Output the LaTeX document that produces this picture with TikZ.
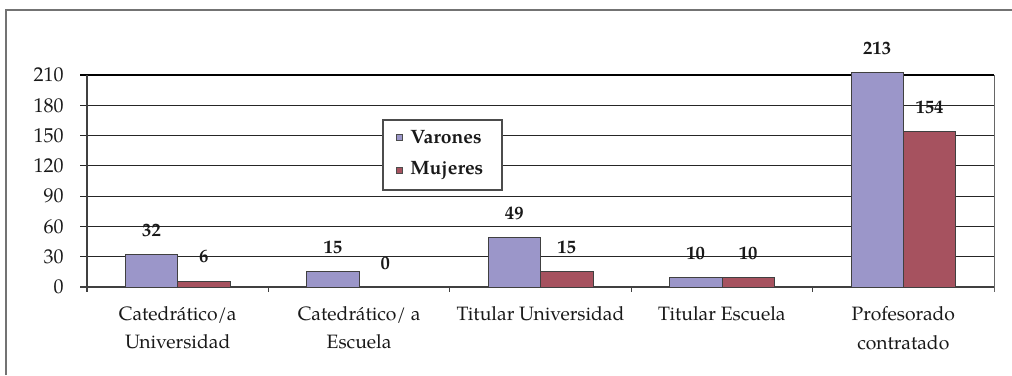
\documentclass[tikz,border=0pt]{standalone}
\usepackage{fontspec}
\setmainfont{texgyrepagella}[Extension=.otf, UprightFont=*-regular, BoldFont=*-bold, ItalicFont=*-italic, BoldItalicFont=*-bolditalic]
\definecolor{varon}{RGB}{155,150,201}
\definecolor{mujer}{RGB}{166,82,95}
\begin{document}
\begin{tikzpicture}[x=0.75pt,y=-0.75pt,
  gridline/.style={black!85, line width=0.6pt},
  ylab/.style={anchor=east, font=\fontsize{15}{17}\selectfont, text=black!90, inner sep=0pt},
  catlab/.style={anchor=north, align=center, font=\fontsize{14.5}{21.5}\selectfont, text=black!90, inner sep=0pt},
  vlab/.style={font=\bfseries\fontsize{14}{16}\selectfont, text=black!90, inner sep=0pt},
  barV/.style={fill=varon, draw=black!75, line width=0.6pt},
  barM/.style={fill=mujer, draw=black!75, line width=0.6pt},
  legfont/.style={anchor=west, font=\bfseries\fontsize{14.5}{17}\selectfont, text=black!90, inner sep=0pt},
  marker/.style={draw=black!70, line width=0.4pt, minimum size=4.5pt, inner sep=0pt},
  ]
\useasboundingbox (0,0) rectangle (1012,375);
\fill[white] (0,0) rectangle (1012,375);
\draw[black!55, line width=1.2pt] (6,375) -- (6,10) -- (1012,10);
% grid lines
\foreach \v in {30,60,...,180} {
  \draw[gridline] (80,{287-\v*1.009524}) -- (994,{287-\v*1.009524});
}
% y labels
\foreach \v in {0,30,...,210} {
  \node[ylab] (y\v) at (64,{287-\v*1.009524}) {\v};
}
% frame of plot
\draw[black!60, line width=0.6pt] (994,75) -- (994,292);
\draw[black, line width=1.5pt] (80,75) -- (994,75);
\draw[black!75, line width=1pt] (87,75) -- (87,292);
\draw[black!75, line width=1pt] (80,287) -- (994,287);
\foreach \k in {1,...,4} {
  \draw[black!75, line width=0.8pt] ({87+181.4*\k},287) -- ++(0,5);
}
% bars
\foreach \k/\a/\b in {1/32/6, 2/15/0, 3/49/15, 4/10/10, 5/213/154} {
  \pgfmathsetmacro\cx{87+181.4*(\k-0.5)}
  \pgfmathsetmacro\ya{287-\a*1.009524}
  \pgfmathsetmacro\yb{287-\b*1.009524}
  \draw[barV] ({\cx-52.4},287) rectangle (\cx,\ya);
  \ifnum\b>0 \draw[barM] (\cx,287) rectangle ({\cx+52.4},\yb); \fi
  \node[vlab] (va\k) at ({\cx-26.2},{\ya-24}) {\a};
  \node[vlab] (vb\k) at ({\cx+26.2},{\yb-24}) {\b};
}
% category labels
\node[catlab] (c1) at ({87+181.4*0.5},306) {Catedrático/a\\Universidad};
\node[catlab] (c2) at ({87+181.4*1.5},306) {Catedrático/ a\\Escuela};
\node[catlab] (c3) at ({87+181.4*2.5},306) {Titular Universidad};
\node[catlab] (c4) at ({87+181.4*3.5},306) {Titular Escuela};
\node[catlab] (c5) at ({87+181.4*4.5},306) {Profesorado\\contratado};
% legend
\draw[black!70, fill=white, line width=0.8pt] (383,120) rectangle (502,190);
\node[marker, fill=varon] (mkV) at (399,137) {};
\node[marker, fill=mujer] (mkM) at (399,170) {};
\node[legfont] (tV) at (410,137) {Varones};
\node[legfont] (tM) at (410,170) {Mujeres};
\end{tikzpicture}
\end{document}
